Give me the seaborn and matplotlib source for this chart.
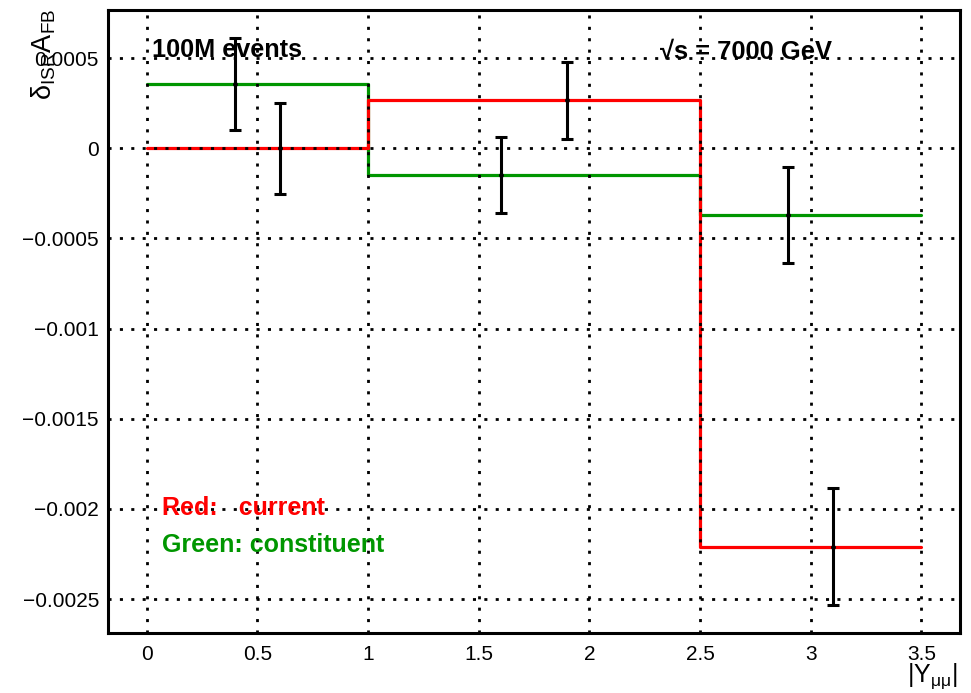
import numpy as np
import pandas as pd
import seaborn as sns
import matplotlib
matplotlib.use("Agg")
import matplotlib.pyplot as plt
from matplotlib.ticker import MultipleLocator, FuncFormatter

# Bin edges in |Y_mumu| and the ISR shift of A_FB for the two models
bin_edges = [0.0, 1.0, 2.5, 3.5]
current_vals = [0.0, 0.000266, -0.00221]
constituent_vals = [0.000356, -0.000148, -0.000369]

# Statistical error bars (100M events), drawn at offset positions inside each bin
current_err_x = [0.6, 1.9, 3.1]
current_err = [0.000253, 0.000215, 0.000325]
constituent_err_x = [0.4, 1.6, 2.9]
constituent_err = [0.000255, 0.000212, 0.000266]

x_ticks = [0, 0.5, 1, 1.5, 2, 2.5, 3, 3.5]
y_ticks = [-0.0025, -0.002, -0.0015, -0.001, -0.0005, 0, 0.0005]

RED = "#ff0000"
GREEN = "#009600"

sns.set_theme(style="white")
plt.rcParams["font.family"] = ["Liberation Sans", "DejaVu Sans"]
plt.rcParams["mathtext.fontset"] = "custom"
plt.rcParams["mathtext.rm"] = "Liberation Sans"
plt.rcParams["mathtext.it"] = "Liberation Sans"
plt.rcParams["mathtext.bf"] = "Liberation Sans:bold"
plt.rcParams["mathtext.default"] = "regular"
plt.rcParams["axes.unicode_minus"] = True


def step_frame(name, vals):
    # repeat the last value so the final bin extends to the right edge
    return pd.DataFrame({"x": bin_edges, "y": list(vals) + [vals[-1]], "model": name})


steps = pd.concat([step_frame("constituent", constituent_vals),
                   step_frame("current", current_vals)], ignore_index=True)

W, H = 971, 693
fig = plt.figure(figsize=(W / 100, H / 100), dpi=100)
L, R, T, B = 108, 960, 10, 633
ax = fig.add_axes([L / W, 1 - B / H, (R - L) / W, (B - T) / H])

# green first so the red histogram sits on top where they cross
sns.lineplot(data=steps, x="x", y="y", hue="model",
             hue_order=["constituent", "current"],
             palette={"current": RED, "constituent": GREEN},
             drawstyle="steps-post", estimator=None, sort=False,
             legend=False, linewidth=2.3, ax=ax, zorder=2)


def bin_value(xs, vals):
    idx = np.searchsorted(bin_edges, xs, side="right") - 1
    return np.asarray(vals)[idx]


for xs, vals, errs in [(constituent_err_x, constituent_vals, constituent_err),
                       (current_err_x, current_vals, current_err)]:
    ys = bin_value(xs, vals)
    ax.errorbar(xs, ys, yerr=errs, fmt="o", color="black", markersize=2.5,
                ecolor="black", elinewidth=2.2, capsize=4.5, capthick=2.2, zorder=4)

ax.set_xlim(-0.175, 3.675)
ax.set_ylim(-0.002688, 0.000767)
ax.set_xticks(x_ticks)
ax.set_yticks(y_ticks)
ax.xaxis.set_minor_locator(MultipleLocator(0.1))
ax.yaxis.set_minor_locator(MultipleLocator(0.0001))
ax.xaxis.set_major_formatter(FuncFormatter(lambda v, p: f"{v:g}"))
ax.yaxis.set_major_formatter(FuncFormatter(lambda v, p: f"{v:g}".replace("-", "\u2212")))

ax.grid(True, which="major", color="black", linestyle=(0, (1.1, 3.0)), linewidth=2.0, zorder=3)
ax.set_axisbelow(False)
for s in ax.spines.values():
    s.set_color("black")
    s.set_linewidth(2.2)

ax.tick_params(axis="both", which="both", direction="in", color="black",
               top=False, right=False, labelsize=15, labelcolor="black")
ax.tick_params(axis="y", which="major", length=19, width=1.6, pad=6.5)
ax.tick_params(axis="y", which="minor", length=8, width=1.6)
ax.tick_params(axis="x", which="major", length=13.5, width=1.6, pad=8.5)
ax.tick_params(axis="x", which="minor", length=6.5, width=1.6)
ax.set_xlabel("")
ax.set_ylabel("")


def ax_pos(px, py):
    return (px - L) / (R - L), (B - py) / (B - T)


ax.text(*ax_pos(152, 57), "100M events", transform=ax.transAxes, fontsize=18.2,
        fontweight="bold", color="black", va="baseline", ha="left", zorder=5)
ax.text(*ax_pos(660, 58), "\u221as = 7000 GeV", transform=ax.transAxes, fontsize=18.4,
        fontweight="bold", color="black", va="baseline", ha="left", zorder=5)
ax.text(*ax_pos(162, 515), "Red:   current", transform=ax.transAxes, fontsize=18,
        fontweight="bold", color=RED, va="baseline", ha="left", zorder=5)
ax.text(*ax_pos(162, 552), "Green: constituent", transform=ax.transAxes, fontsize=18,
        fontweight="bold", color=GREEN, va="baseline", ha="left", zorder=5)

fig.text(44 / W, 1 - 9 / H, r"$\delta_{ISR}A_{FB}$", rotation=90, fontsize=19.5,
         ha="center", va="top", color="black")
fig.text(958 / W, 1 - 661 / H, r"$|Y_{\mu\mu}|$", fontsize=18,
         ha="right", va="top", color="black")

fig.savefig("out.png", dpi=100, facecolor="white")
